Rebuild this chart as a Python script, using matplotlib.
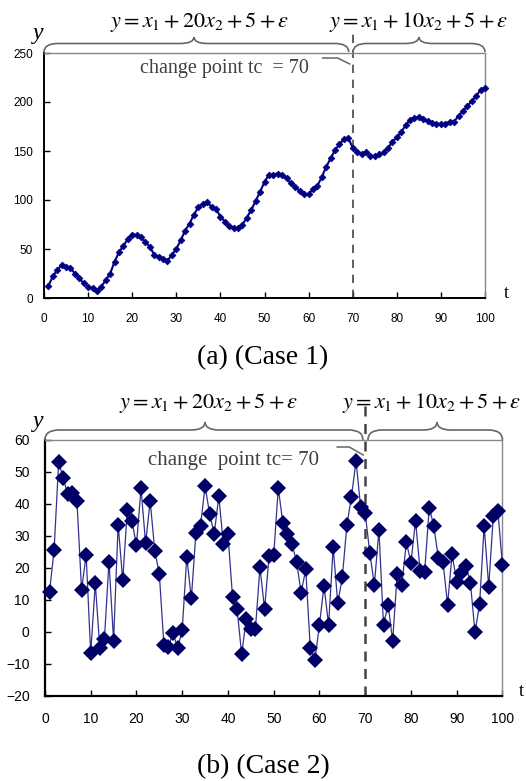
import matplotlib
matplotlib.use("Agg")
import matplotlib.pyplot as plt
import numpy as np
from matplotlib.path import Path
from matplotlib.patches import PathPatch
from matplotlib.lines import Line2D

plt.rcParams['mathtext.fontset'] = 'stix'
plt.rcParams['font.family'] = ['Liberation Sans', 'DejaVu Sans']

# ---------------- data ----------------
t_values = list(range(1, 101))

case1_y = [12.6, 22, 28.6, 33.7, 32, 30.6, 25, 20, 15, 11.6,
           10, 7, 11.6, 18.4, 25, 37, 46.6, 53.4, 60, 64.6,
           64.6, 62, 57, 52.4, 44, 41.5, 39.8, 38, 44, 50,
           59, 68.7, 76, 85, 93, 96, 97.6, 93, 91, 83,
           78, 73, 71.4, 71.4, 75, 82, 90, 99, 108.5, 118.4,
           126, 126, 127, 126, 122, 117, 113.6, 109, 106, 106,
           111, 114.6, 123.5, 134, 142.5, 151, 157, 162, 163.6, 153,
           149, 146.6, 148.6, 145, 145, 146.6, 148.6, 153, 159.5, 164,
           169, 176.5, 181.6, 184, 185, 183, 180.6, 179, 178, 177.6,
           177.6, 180, 180, 186, 191, 195.6, 201, 206.4, 212, 214.6]

case2_y = [12.5, 25.5, 53.1, 47.9, 42.9, 43.2, 40.8, 13, 24, -6.8,
           15.1, -5.2, -2.3, 21.9, -2.8, 33.5, 16.1, 38, 34.6, 27.1,
           44.8, 27.6, 40.9, 25.3, 18, -4.1, -4.7, -0.3, -5.2, 0.5,
           23.4, 10.4, 30.9, 33, 45.5, 36.8, 30.5, 42.4, 27.3, 30.5,
           10.9, 7.1, -7.1, 4, 0.8, 0.8, 20.1, 7.1, 23.8, 23.9,
           44.9, 34, 30.5, 27.3, 21.9, 12.2, 19.5, -5.2, -8.9, 2.1,
           14.4, 2.1, 26.4, 8.9, 17, 33.3, 42.2, 53.4, 38.9, 37,
           24.7, 14.6, 31.8, 2.1, 8.5, -2.8, 18, 14.6, 27.9, 21.6,
           34.7, 19.1, 18.8, 38.8, 33, 22.9, 21.9, 8.5, 24.2, 15.6,
           18.5, 20.5, 15.3, -0.2, 8.6, 33, 14.1, 36.1, 37.8, 20.8]

change_point = 70
x_ticks = [0, 10, 20, 30, 40, 50, 60, 70, 80, 90, 100]
y_ticks_1 = [0, 50, 100, 150, 200, 250]
y_ticks_2 = [-20, -10, 0, 10, 20, 30, 40, 50, 60]
eq_before = r'$y = x_1 + 20x_2 + 5 + \varepsilon$'
eq_after = r'$y = x_1 + 10x_2 + 5 + \varepsilon$'
cp_text_1 = 'change point tc  = 70'
cp_text_2 = 'change  point tc= 70'
caption_1 = '(a) (Case 1)'
caption_2 = '(b) (Case 2)'

# ---------------- layout ----------------
W, H = 526, 781
fig = plt.figure(figsize=(W / 100, H / 100), dpi=100)


def fx(x):
    return x / W


def fy(y):
    return 1 - y / H


def ax_rect(left, right, top, bottom):
    return [fx(left), fy(bottom), (right - left) / W, (bottom - top) / H]


serif = ['Liberation Serif', 'DejaVu Serif']

ax1 = fig.add_axes(ax_rect(44, 485, 53, 298))
ax2 = fig.add_axes(ax_rect(44.95, 502.45, 439.7, 695.7))


def px_of(ax, t):
    """figure pixel x (top-left origin) of data t"""
    disp = ax.transData.transform((t, 0))
    return disp[0] * W / fig.bbox.width


def brace(x0, x1, xp, yb, ym, yp, r, color='#666666', lw=1.2):
    verts = [(x0, yb), (x0, ym), (x0 + r, ym),
             (xp - r, ym), (xp, ym), (xp, yp),
             (xp, ym), (xp + r, ym),
             (x1 - r, ym), (x1, ym), (x1, yb)]
    codes = [Path.MOVETO, Path.CURVE3, Path.CURVE3,
             Path.LINETO, Path.CURVE3, Path.CURVE3,
             Path.CURVE3, Path.CURVE3,
             Path.LINETO, Path.CURVE3, Path.CURVE3]
    verts = [(fx(a), fy(b)) for a, b in verts]
    p = PathPatch(Path(verts, codes), transform=fig.transFigure,
                  fill=False, edgecolor=color, lw=lw)
    fig.patches.append(p)


def style_axes(ax, ylim, yticks, fs, lw_main, xpad, ypad):
    ax.set_xlim(0, 100)
    ax.set_ylim(*ylim)
    ax.set_xticks(x_ticks)
    ax.set_yticks(yticks)
    ax.tick_params(direction='in', length=4, width=1, labelsize=fs)
    ax.tick_params(axis='x', pad=xpad)
    ax.tick_params(axis='y', pad=ypad)
    for side in ('left', 'bottom'):
        ax.spines[side].set_color('black')
        ax.spines[side].set_linewidth(lw_main)
    for side in ('top', 'right'):
        ax.spines[side].set_color('#888888')
        ax.spines[side].set_linewidth(1.0)


# ---------------- Case 1 ----------------
ax1.plot(t_values, case1_y, color='#000080', lw=1.5, marker='D',
         markersize=3.4, markeredgewidth=0.6, clip_on=False, zorder=3)
style_axes(ax1, (0, 250), y_ticks_1, 8.5, 1.4, 11, 8)
ax1.axvline(change_point, ymin=0, ymax=(298 - 30) / 245, color='#444444',
            lw=1.2, ls=(0, (5, 4)), clip_on=False, zorder=2)

# ---------------- Case 2 ----------------
ax2.plot(t_values, case2_y, color='#33338f', lw=0.9, zorder=3, clip_on=False)
ax2.plot(t_values, case2_y, ls='none', marker='D', markersize=7.8,
         color='#000066', markeredgewidth=0, zorder=4, clip_on=False)
style_axes(ax2, (-20, 60), y_ticks_2, 10, 1.6, 12, 11)
ax2.axvline(change_point, ymin=0, ymax=(695.7 - 403) / 256, color='#444444',
            lw=1.8, ls=(0, (4, 3)), clip_on=False, zorder=2)

# ---------------- decorations ----------------
# top braces
brace(px_of(ax1, 0), px_of(ax1, 69.1), px_of(ax1, 34), 52, 43.5, 37, 14)
brace(px_of(ax1, 70.1), px_of(ax1, 100), px_of(ax1, 85), 52, 43.5, 37, 14)

# bottom braces
brace(px_of(ax2, 0), px_of(ax2, 69.5), px_of(ax2, 35), 440, 430, 422, 14)
brace(px_of(ax2, 70.6), px_of(ax2, 100), px_of(ax2, 85.7), 440, 430, 422, 14)

# leader lines for change point label
xc1 = px_of(ax1, change_point)
fig.add_artist(Line2D([fx(xc1 - 30), fx(xc1 - 15), fx(xc1 - 3)],
                      [fy(58), fy(58), fy(64)], color='#666666', lw=1.1))
xc2 = px_of(ax2, change_point)
fig.add_artist(Line2D([fx(xc2 - 28), fx(xc2 - 16), fx(xc2 - 2)],
                      [fy(447), fy(447), fy(455)], color='#666666', lw=1.1))

# equations
fig.text(fx(200), fy(22), eq_before, fontsize=16, ha='center', va='center')
fig.text(fx(419), fy(22), eq_after, fontsize=16, ha='center', va='center')
fig.text(fx(209), fy(403), eq_before, fontsize=16, ha='center', va='center')
fig.text(fx(432), fy(403), eq_after, fontsize=16, ha='center', va='center')

# change point labels
fig.text(fx(224), fy(69), cp_text_1, fontsize=14.5, family=serif,
         color='#404040', ha='center', va='center')
fig.text(fx(234), fy(460), cp_text_2, fontsize=15, family=serif,
         color='#404040', ha='center', va='center')

# axis labels
fig.text(fx(38), fy(33), 'y', fontsize=17, family=serif, style='italic',
         ha='center', va='center')
fig.text(fx(506), fy(293), 't', fontsize=13, family=serif,
         ha='center', va='center')
fig.text(fx(38), fy(421), 'y', fontsize=17, family=serif, style='italic',
         ha='center', va='center')
fig.text(fx(521), fy(691), 't', fontsize=13, family=serif,
         ha='center', va='center')

# captions
fig.text(fx(263), fy(358), caption_1, fontsize=20, family=serif,
         ha='center', va='center')
fig.text(fx(263), fy(767), caption_2, fontsize=20, family=serif,
         ha='center', va='center')

fig.savefig('out.png', dpi=100)
